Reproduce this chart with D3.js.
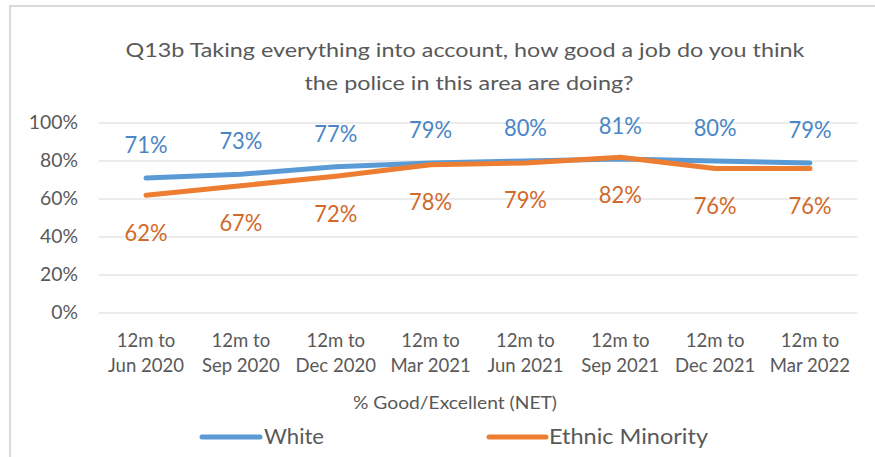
<!DOCTYPE html>
<html>
<head>
<meta charset="utf-8">
<script src="https://cdn.jsdelivr.net/npm/d3@7"></script>
<style>
  html, body { margin: 0; padding: 0; background: #fff; }
  svg { display: block; font-family: Lato, "Open Sans", sans-serif; }
</style>
</head>
<body>
<svg id="chart" width="875" height="457"></svg>
<script>
// Survey periods (two-line category labels)
const periodLine1 = ["12m to", "12m to", "12m to", "12m to", "12m to", "12m to", "12m to", "12m to"];
const periodLine2 = ["Jun 2020", "Sep 2020", "Dec 2020", "Mar 2021", "Jun 2021", "Sep 2021", "Dec 2021", "Mar 2022"];

// % Good/Excellent (NET) by ethnic group
const whiteValues = [71, 73, 77, 79, 80, 81, 80, 79];
const minorityValues = [62, 67, 72, 78, 79, 82, 76, 76];

const seriesNames = ["White", "Ethnic Minority"];
const yTicks = [0, 20, 40, 60, 80, 100];

const titleLines = [
  "Q13b Taking everything into account, how good a job do you think",
  "the police in this area are doing?"
];
const axisTitle = "% Good/Excellent (NET)";

const svg = d3.select("#chart");
const textGray = "#595959";
const blueLine = "#5b9bd5", orangeLine = "#ed7d31";
const blueLabel = "#4a86c6", orangeLabel = "#d06a2b";

// Horizontal squeeze needed for a sample text to reach a given width
function squeezeRatio(sampleNode, size, width) {
  const s = d3.select(sampleNode);
  s.attr("textLength", null).attr("lengthAdjust", null).attr("font-size", size);
  return width / sampleNode.getComputedTextLength();
}
// Apply a squeeze ratio to every element of a selection
function condense(sel, size, ratio) {
  sel.attr("textLength", null).attr("lengthAdjust", null).attr("font-size", size);
  sel.each(function () {
    const w = this.getComputedTextLength();
    d3.select(this).attr("textLength", w * ratio).attr("lengthAdjust", "spacingAndGlyphs");
  });
}

// Outer frame (top and left edges)
svg.append("line").attr("x1", 10).attr("x2", 875).attr("y1", 6).attr("y2", 6)
  .attr("stroke", "#d9d9d9").attr("stroke-width", 2);
svg.append("line").attr("x1", 10).attr("x2", 10).attr("y1", 5).attr("y2", 457)
  .attr("stroke", "#d9d9d9").attr("stroke-width", 2);

// Title
const titles = svg.append("g").selectAll("text").data(titleLines).join("text")
  .attr("x", (d, i) => i === 0 ? 465 : 469).attr("y", (d, i) => 57 + i * 33)
  .attr("text-anchor", "middle").attr("fill", textGray).text(d => d);
condense(titles, 19.5, squeezeRatio(titles.nodes()[0], 19.5, 679));

// Scales
const x = d3.scaleBand().domain(periodLine2).range([98.6, 857.4]);
const y = d3.scaleLinear().domain([0, 100]).range([313, 123]);
const cx = d => x(d) + x.bandwidth() / 2;

// Gridlines
svg.append("g").selectAll("line").data(yTicks).join("line")
  .attr("x1", 98.6).attr("x2", 857.4)
  .attr("y1", d => y(d)).attr("y2", d => y(d))
  .attr("stroke", "#d9d9d9").attr("stroke-width", 1.2);

// Y axis labels
const yAxis = svg.append("g").attr("transform", "translate(78,0)")
  .call(d3.axisLeft(y).tickValues(yTicks).tickFormat(d => d + "%").tickSize(0).tickPadding(0));
yAxis.select(".domain").remove();
const yText = yAxis.selectAll("text").attr("fill", textGray).attr("font-family", "Lato, sans-serif");
condense(yText, 18.5, squeezeRatio(yText.filter(d => d === 80).node(), 18.5, 38));

// X axis labels (two lines)
const xl = svg.append("g");
const xl1 = xl.selectAll("text.l1").data(periodLine2).join("text").attr("class", "l1")
  .attr("x", d => cx(d)).attr("y", 347).attr("text-anchor", "middle").attr("fill", textGray)
  .text((d, i) => periodLine1[i]);
const xl2 = xl.selectAll("text.l2").data(periodLine2).join("text").attr("class", "l2")
  .attr("x", d => cx(d)).attr("y", 372).attr("text-anchor", "middle").attr("fill", textGray)
  .text(d => d);
const xRatio = squeezeRatio(xl2.nodes()[0], 18.5, 76);
condense(xl1, 18.5, xRatio);
condense(xl2, 18.5, xRatio);

// Axis title
const at = svg.append("text").attr("x", 455).attr("y", 409).attr("text-anchor", "middle")
  .attr("fill", textGray).text(axisTitle);
condense(at, 17.5, squeezeRatio(at.node(), 17.5, 204));

// Lines
const line = d3.line().x((d, i) => cx(periodLine2[i])).y(d => y(d));
svg.append("path").datum(whiteValues).attr("d", line).attr("fill", "none")
  .attr("stroke", blueLine).attr("stroke-width", 5).attr("stroke-linejoin", "round").attr("stroke-linecap", "round");
svg.append("path").datum(minorityValues).attr("d", line).attr("fill", "none")
  .attr("stroke", orangeLine).attr("stroke-width", 5).attr("stroke-linejoin", "round").attr("stroke-linecap", "round");

// Data labels: White above, Ethnic Minority below
const wl = svg.append("g").selectAll("text").data(whiteValues).join("text")
  .attr("x", (d, i) => cx(periodLine2[i])).attr("y", d => y(d) - 25)
  .attr("text-anchor", "middle").attr("fill", blueLabel)
  .text(d => d + "%");
const ml = svg.append("g").selectAll("text").data(minorityValues).join("text")
  .attr("x", (d, i) => cx(periodLine2[i])).attr("y", d => y(d) + 45.5)
  .attr("text-anchor", "middle").attr("fill", orangeLabel)
  .text(d => d + "%");
const labelRatio = squeezeRatio(wl.nodes()[0], 23, 43);
condense(wl, 23, labelRatio);
condense(ml, 23, labelRatio);

// Legend
const legend = [
  { name: seriesNames[0], color: blueLine, x0: 202, x1: 260, tx: 264, w: 60 },
  { name: seriesNames[1], color: orangeLine, x0: 489, x1: 546, tx: 549, w: 159 }
];
legend.forEach(l => {
  svg.append("line").attr("x1", l.x0).attr("x2", l.x1).attr("y1", 437).attr("y2", 437)
    .attr("stroke", l.color).attr("stroke-width", 5).attr("stroke-linecap", "round");
  const t = svg.append("text").attr("x", l.tx).attr("y", 444).attr("fill", textGray).text(l.name);
  condense(t, 22, squeezeRatio(t.node(), 22, l.w));
});
</script>
</body>
</html>
